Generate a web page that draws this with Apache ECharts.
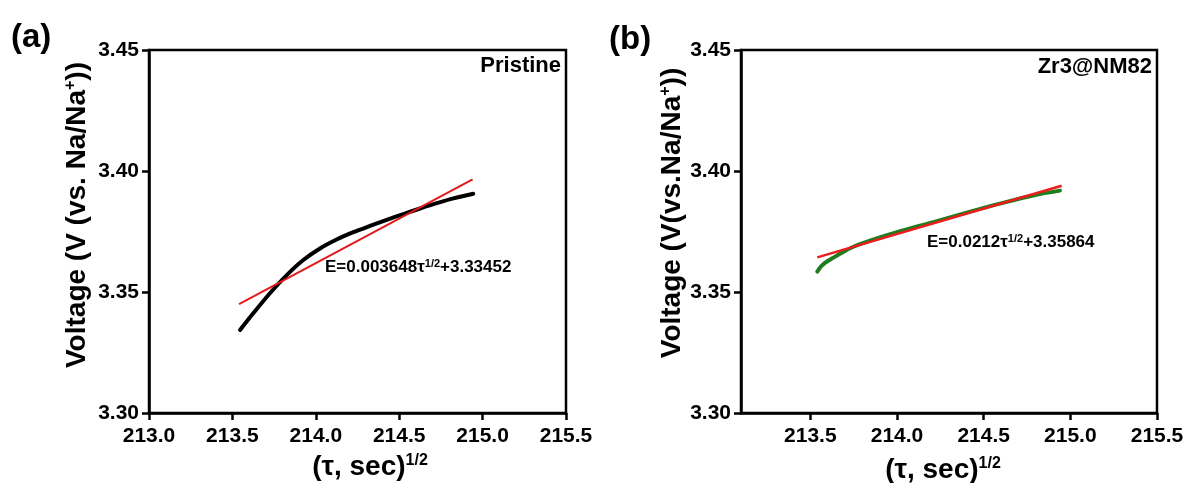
<!DOCTYPE html>
<html>
<head>
<meta charset="utf-8">
<title>GITT diffusion fits</title>
<script src="https://cdn.jsdelivr.net/npm/echarts@6/dist/echarts.min.js"></script>
<style>
  html, body { margin: 0; padding: 0; background: #ffffff; }
  #chart { width: 1187px; height: 483px; }
</style>
</head>
<body>
<div id="chart"></div>
<script>
// Pristine: measured voltage vs square root of relaxation time
const pristineTau = [213.546, 213.625, 213.725, 213.826, 213.925, 214.025, 214.125, 214.225, 214.325, 214.425, 214.525, 214.625, 214.725, 214.825, 214.944];
const pristineV   = [3.3343, 3.3412, 3.3495, 3.3570, 3.3632, 3.3680, 3.3717, 3.3747, 3.3773, 3.3798, 3.3822, 3.3845, 3.3867, 3.3887, 3.3906];
// Pristine: linear fit end points
const pristineFitTau = [213.54, 214.94];
const pristineFitV   = [3.3450, 3.3965];

// Zr3@NM82: measured voltage vs square root of relaxation time
const zrTau = [213.540, 213.563, 213.602, 213.659, 213.736, 213.832, 214.024, 214.215, 214.407, 214.599, 214.791, 214.940];
const zrV   = [3.3584, 3.3607, 3.3629, 3.3653, 3.3683, 3.3709, 3.3752, 3.3790, 3.3829, 3.3866, 3.3900, 3.3919];
// Zr3@NM82: linear fit end points
const zrFitTau = [213.54, 214.95];
const zrFitV   = [3.3643, 3.3939];

// Tick values
const xTicksA = [213.0, 213.5, 214.0, 214.5, 215.0, 215.5];
const xTicksB = [213.5, 214.0, 214.5, 215.0, 215.5];
const yTicks  = [3.30, 3.35, 3.40, 3.45];

const pairs = (xs, ys) => xs.map((x, i) => [x, ys[i]]);

const FONT = '"Liberation Sans", Arial, sans-serif';
const AX = '#000000';

function xAxisCfg(gridIndex, min, ticks) {
  return {
    type: 'value', gridIndex,
    min, max: ticks[ticks.length - 1],
    axisLine: { show: true, onZero: false, lineStyle: { color: AX, width: 2.5 } },
    axisTick: { show: true, length: 7, lineStyle: { color: AX, width: 2.5 }, customValues: ticks },
    axisLabel: {
      customValues: ticks, margin: 13,
      color: AX, fontSize: 21, fontWeight: 'bold', fontFamily: FONT,
      formatter: v => v.toFixed(1)
    },
    splitLine: { show: false }
  };
}

function yAxisCfg(gridIndex) {
  return {
    type: 'value', gridIndex,
    min: yTicks[0], max: yTicks[yTicks.length - 1], interval: 0.05,
    axisLine: { show: true, onZero: false, lineStyle: { color: AX, width: 2.5 } },
    axisTick: { show: true, length: 7, lineStyle: { color: AX, width: 2.5 } },
    axisLabel: {
      margin: 10,
      color: AX, fontSize: 21, fontWeight: 'bold', fontFamily: FONT,
      formatter: v => v.toFixed(2)
    },
    splitLine: { show: false }
  };
}

const richMain = {
  m: { fontSize: 28, fontWeight: 'bold', fontFamily: FONT, fill: AX },
  s: { fontSize: 16, fontWeight: 'bold', fontFamily: FONT, fill: AX, verticalAlign: 'top' }
};
const richEq = {
  a: { fontSize: 17, fontWeight: 'bold', fontFamily: FONT, fill: AX },
  s: { fontSize: 11, fontWeight: 'bold', fontFamily: FONT, fill: AX, verticalAlign: 'top' }
};

function textEl(x, y, text, rich, align, extra) {
  return Object.assign({
    type: 'text', x, y, silent: true,
    style: { text, rich, align: align || 'center', verticalAlign: 'middle' }
  }, extra || {});
}

const chart = echarts.init(document.getElementById('chart'), null, { renderer: 'canvas' });

chart.setOption({
  animation: false,
  backgroundColor: '#ffffff',
  grid: [
    { left: 149, top: 50, width: 417, height: 363, show: true, borderColor: AX, borderWidth: 2.5, backgroundColor: 'transparent' },
    { left: 741, top: 50, width: 416, height: 363, show: true, borderColor: AX, borderWidth: 2.5, backgroundColor: 'transparent' }
  ],
  xAxis: [
    xAxisCfg(0, xTicksA[0], xTicksA),
    xAxisCfg(1, 213.1, xTicksB)
  ],
  yAxis: [yAxisCfg(0), yAxisCfg(1)],
  series: [
    {
      name: 'Pristine', type: 'line', xAxisIndex: 0, yAxisIndex: 0,
      data: pairs(pristineTau, pristineV), smooth: 0.3, showSymbol: false,
      lineStyle: { color: '#000000', width: 4, cap: 'round' }, z: 2
    },
    {
      name: 'Pristine fit', type: 'line', xAxisIndex: 0, yAxisIndex: 0,
      data: pairs(pristineFitTau, pristineFitV), showSymbol: false,
      lineStyle: { color: '#e3191b', width: 2 }, z: 3
    },
    {
      name: 'Zr3@NM82', type: 'line', xAxisIndex: 1, yAxisIndex: 1,
      data: pairs(zrTau, zrV), smooth: 0.3, showSymbol: false,
      lineStyle: { color: '#1f7d1f', width: 4, cap: 'round' }, z: 2
    },
    {
      name: 'Zr3@NM82 fit', type: 'line', xAxisIndex: 1, yAxisIndex: 1,
      data: pairs(zrFitTau, zrFitV), showSymbol: false,
      lineStyle: { color: '#ee1c1c', width: 2.5 }, z: 3
    }
  ],
  graphic: [
    // panel letters
    { type: 'text', x: 11, y: 38, silent: true,
      style: { text: '(a)', font: 'bold 33px ' + FONT, fill: AX, verticalAlign: 'middle' } },
    { type: 'text', x: 609, y: 40, silent: true,
      style: { text: '(b)', font: 'bold 33px ' + FONT, fill: AX, verticalAlign: 'middle' } },
    // sample names
    { type: 'text', x: 561, y: 66, silent: true,
      style: { text: 'Pristine', font: 'bold 22px ' + FONT, fill: AX, align: 'right', verticalAlign: 'middle' } },
    { type: 'text', x: 1152, y: 67, silent: true,
      style: { text: 'Zr3@NM82', font: 'bold 22px ' + FONT, fill: AX, align: 'right', verticalAlign: 'middle' } },
    // fit equations
    textEl(325, 267, '{a|E=0.003648τ}{s|1/2}{a|+3.33452}', richEq, 'left'),
    textEl(927, 242, '{a|E=0.0212τ}{s|1/2}{a|+3.35864}', richEq, 'left'),
    // x axis titles
    textEl(370, 467, '{m|(τ, sec)}{s|1/2}', richMain),
    textEl(943, 470, '{m|(τ, sec)}{s|1/2}', richMain),
    // y axis titles
    textEl(77, 215, '{m|Voltage (V (vs. Na/Na}{s|+}{m|))}', richMain, 'center', { rotation: Math.PI / 2 }),
    textEl(672, 213, '{m|Voltage (V(vs.Na/Na}{s|+}{m|))}', richMain, 'center', { rotation: Math.PI / 2 })
  ]
});
</script>
</body>
</html>
